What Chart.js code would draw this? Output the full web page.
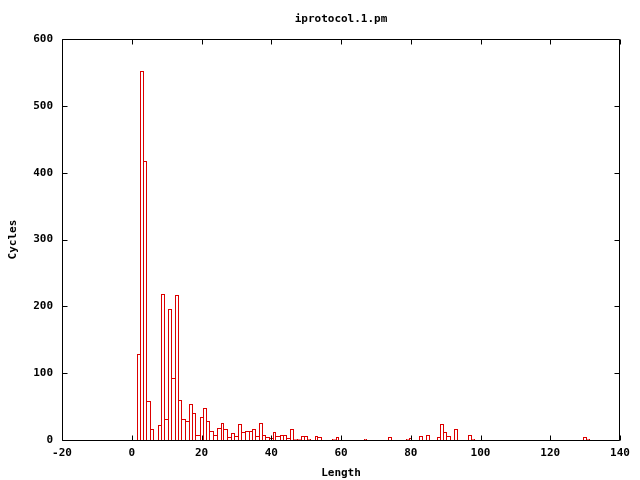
<!DOCTYPE html>
<html>
<head>
<meta charset="utf-8">
<title>iprotocol.1.pm</title>
<script src="https://cdn.jsdelivr.net/npm/chart.js@4/dist/chart.umd.min.js"></script>
<style>
    html, body { margin: 0; padding: 0; background: #ffffff; }
</style>
</head>
<body>
<canvas id="lengthChart" width="640" height="480"></canvas>
<script>
    // values (length -> cycles)
    const lengths = [2, 3, 4, 5, 6, 8, 9, 10, 11, 12, 13, 14, 15, 16, 17, 18, 19, 20, 21, 22,
        23, 24, 25, 26, 27, 28, 29, 30, 31, 32, 33, 34, 35, 36, 37, 38, 39, 40, 41, 42,
        43, 44, 45, 46, 47, 48, 49, 50, 51, 53, 54, 58, 59, 67, 74, 79, 80, 83, 85, 88,
        89, 90, 91, 93, 97, 98, 130, 131];
    const cycles = [128, 552, 417, 58, 17, 22, 219, 32, 196, 93, 217, 60, 31, 28, 54, 40, 7, 34, 48, 28,
        13, 7, 18, 25, 16, 4, 10, 6, 24, 12, 13, 13, 16, 6, 25, 7, 4, 3, 12, 6,
        7, 7, 3, 16, 1, 1, 6, 6, 1, 6, 4, 2, 5, 2, 5, 2, 3, 6, 7, 4,
        24, 12, 6, 17, 7, 2, 4, 2];

    const xTicks = [-20, 0, 20, 40, 60, 80, 100, 120, 140];
    const yTicks = [0, 100, 200, 300, 400, 500, 600];

    const barColor = 'rgb(220, 0, 0)';
    const fuente = { family: 'DejaVu Sans Mono', size: 11, weight: 'bold' };

    let chart;

    // gnuplot style: one line between neighbouring boxes, drawn by the taller one
    const alturas = {};
    lengths.forEach((x, i) => { alturas[x] = cycles[i]; });

    function bordes(context) {
        const punto = context.raw;
        if (!punto) return 1;
        const h = punto.y;
        const prev = alturas[punto.x - 1] || 0;
        const next = alturas[punto.x + 1] || 0;
        return {
            top: 1,
            bottom: 0,
            left: h >= prev ? 1 : 0,
            right: h > next ? 1 : 0
        };
    }

    // snap the boxes to whole pixels so the outlines stay crisp
    const ajustePlugin = {
        id: 'ajuste',
        afterDatasetsUpdate(chart) {
            chart.getDatasetMeta(0).data.forEach(el => {
                const izq = Math.round(el.x - el.width / 2);
                const der = Math.round(el.x + el.width / 2);
                el.x = (izq + der) / 2;
                el.width = der - izq;
                el.y = Math.round(el.y);
            });
        }
    };

    // frame with inward ticks on all four sides
    const marcoPlugin = {
        id: 'marco',
        afterDatasetsDraw(chart) {
            const { ctx, chartArea, scales } = chart;
            const L = Math.round(chartArea.left) + 0.5;
            const R = Math.round(chartArea.right) - 0.5;
            const T = Math.round(chartArea.top) + 0.5;
            const B = Math.round(chartArea.bottom) + 0.5;
            const largo = 5;
            ctx.save();
            ctx.strokeStyle = '#000000';
            ctx.lineWidth = 1;
            ctx.beginPath();
            ctx.rect(L, T, R - L, B - T);
            xTicks.forEach(v => {
                const px = Math.round(scales.x.getPixelForValue(v)) + 0.5;
                ctx.moveTo(px, B); ctx.lineTo(px, B - largo);
                ctx.moveTo(px, T); ctx.lineTo(px, T + largo);
            });
            yTicks.forEach(v => {
                const py = Math.round(scales.y.getPixelForValue(v)) + 0.5;
                ctx.moveTo(L, py); ctx.lineTo(L + largo, py);
                ctx.moveTo(R, py); ctx.lineTo(R - largo, py);
            });
            ctx.stroke();
            ctx.restore();
        }
    };

    function renderChart() {
        const data = {
            datasets: [{
                label: 'Cycles',
                data: lengths.map((x, i) => ({ x: x, y: cycles[i] })),
                backgroundColor: 'rgba(255,255,255,0)',
                borderColor: barColor,
                borderWidth: bordes,
                borderSkipped: false,
                inflateAmount: 0,
                barPercentage: 1,
                categoryPercentage: 1
            }]
        };

        const config = {
            type: 'bar',
            data: data,
            plugins: [ajustePlugin, marcoPlugin],
            options: {
                responsive: false,
                animation: false,
                layout: {
                    padding: { left: 0, right: 20, top: 0, bottom: 0 }
                },
                scales: {
                    x: {
                        type: 'linear',
                        min: -20,
                        max: 140,
                        offset: false,
                        grid: { display: false, drawTicks: false },
                        border: { display: false },
                        afterBuildTicks: scale => { scale.ticks = xTicks.map(v => ({ value: v })); },
                        afterFit: scale => { scale.height = 40; },
                        ticks: {
                            color: '#000000',
                            font: fuente,
                            padding: 7,
                            maxRotation: 0,
                            autoSkip: false
                        },
                        title: {
                            display: true,
                            text: 'Length',
                            color: '#000000',
                            font: fuente,
                            padding: { top: 0, bottom: 0 }
                        }
                    },
                    y: {
                        min: 0,
                        max: 600,
                        grid: { display: false, drawTicks: false },
                        border: { display: false },
                        afterBuildTicks: scale => { scale.ticks = yTicks.map(v => ({ value: v })); },
                        afterFit: scale => { scale.width = 62; },
                        ticks: {
                            color: '#000000',
                            font: fuente,
                            padding: 9
                        },
                        title: {
                            display: true,
                            text: 'Cycles',
                            color: '#000000',
                            font: fuente,
                            padding: { top: 7, bottom: 0 }
                        }
                    }
                },
                plugins: {
                    legend: { display: false },
                    tooltip: { enabled: false },
                    title: {
                        display: true,
                        text: 'iprotocol.1.pm',
                        color: '#000000',
                        font: fuente,
                        fullSize: false,
                        padding: { top: 13, bottom: 13 }
                    }
                }
            }
        };

        if (chart) chart.destroy();
        const ctx = document.getElementById('lengthChart').getContext('2d');
        chart = new Chart(ctx, config);
    }

    window.onload = function() {
        renderChart();
    };
</script>
</body>
</html>
